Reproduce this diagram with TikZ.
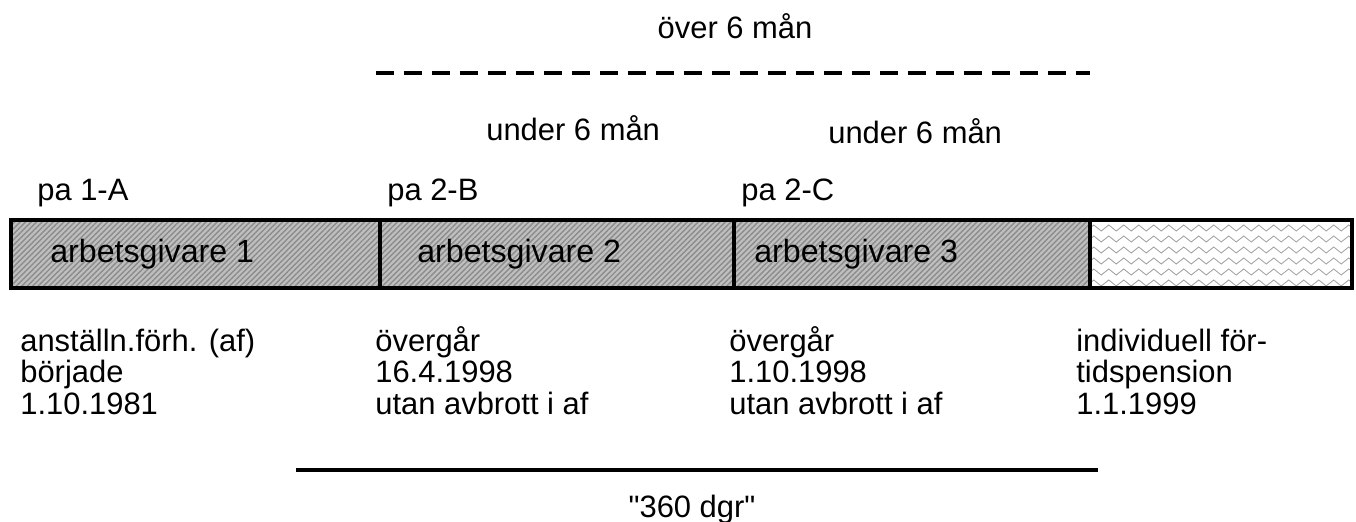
\documentclass[tikz,border=0pt]{standalone}
\usepackage{fontspec}
\setmainfont{Liberation Sans}[Ligatures=TeXOff]
\usetikzlibrary{patterns.meta,decorations.pathmorphing}
\begin{document}
\begin{tikzpicture}[x=0.02cm, y=-0.02cm,
    label/.style ={font=\fontsize{17.6}{17.9}\selectfont, inner sep=0pt, anchor=base west},
    employer/.style ={label, font=\fontsize{18.3}{18}\selectfont},
    period/.style ={label, align=left},
    hatched/.style ={preaction={fill=gray!50}, pattern={Lines[angle=45,distance=2.2pt,line width=0.8pt]}, pattern color=gray!90},
    wavy/.style ={gray!70, line width=0.5pt, decorate, decoration={zigzag,segment length=0.3cm,amplitude=0.06cm}}]
   \useasboundingbox (0,0) rectangle (1356,521);

   \node[label, anchor=base] (over) at (735,38) {över 6 mån};
   \coordinate (overL) at (376,73);
   \coordinate (overR) at (1090,73);
   \draw[line width=2.2pt, dash pattern=on 0.36cm off 0.2cm] (overL) to (overR);

   \node[label] (underB) at (486,140) {under 6 mån};
   \node[label] (underC) at (828,143) {under 6 mån};

   \node[label] (paA) at (37,200) {pa 1-A};
   \node[label] (paB) at (387,200) {pa 2-B};
   \node[label] (paC) at (741,200) {pa 2-C};

   \fill[hatched] (11,220) rectangle (1090,288);
   \begin{scope}
     \clip (1090,220) rectangle (1352,288);
     \foreach \y in {228,239,...,286}
       \draw[wavy] (1090,\y) -- (1370,\y);
   \end{scope}
   \draw[line width=2.3pt] (11,220) rectangle (1352,288);
   \draw[line width=1.8pt] (380,220) -- (380,288);
   \draw[line width=1.8pt] (734,220) -- (734,288);
   \draw[line width=1.8pt] (1090,220) -- (1090,288);

   \node[employer] (ag1) at (50,262) {arbetsgivare 1};
   \node[employer] (ag2) at (417,262) {arbetsgivare 2};
   \node[employer] (ag3) at (754,262) {arbetsgivare 3};

   \node[period] (start) at (20,414) {anställn.förh. (af)\\började\\1.10.1981};
   \node[period] (moveB) at (375,414) {övergår\\16.4.1998\\utan avbrott i af};
   \node[period] (moveC) at (729,414) {övergår\\1.10.1998\\utan avbrott i af};
   \node[period] (pension) at (1076,414) {individuell för-\\tidspension\\1.1.1999};

   \coordinate (dgrL) at (296,470);
   \coordinate (dgrR) at (1098,470);
   \draw[line width=2.6pt] (dgrL) to (dgrR);
   \node[label, anchor=base] (dgr) at (692,517) {"360 dgr"};
 \end{tikzpicture}
\end{document}
